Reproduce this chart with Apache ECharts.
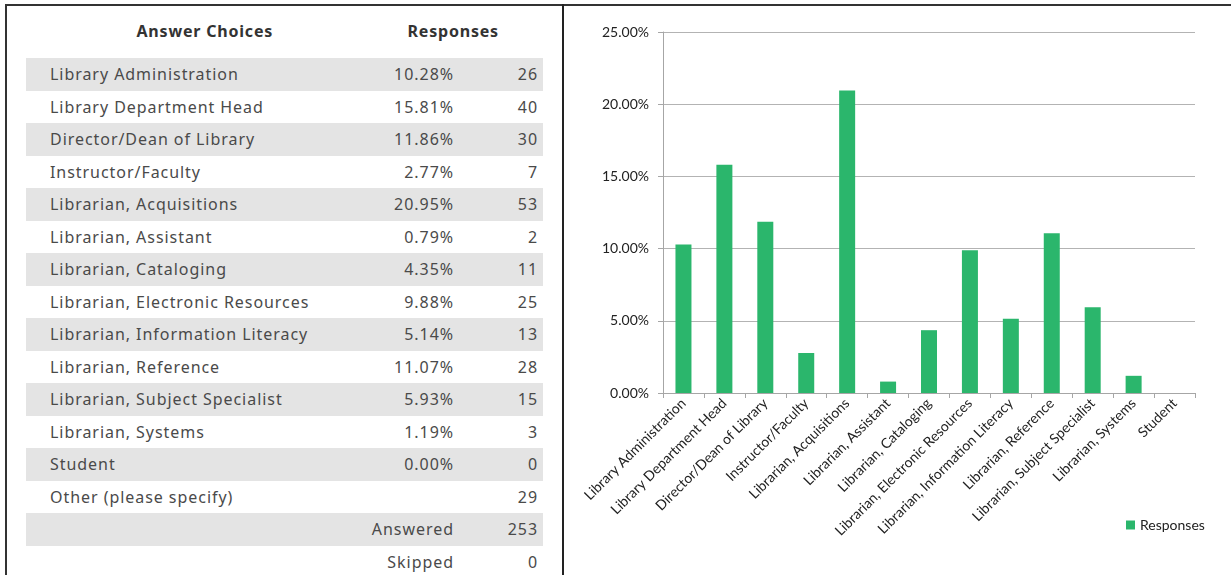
<!DOCTYPE html>
<html>
<head>
<meta charset="utf-8">
<script src="https://cdn.jsdelivr.net/npm/echarts@6/dist/echarts.min.js"></script>
<style>
  html, body { margin: 0; padding: 0; background: #fff; width: 1231px; height: 575px; overflow: hidden; }
  #frameTop { position: absolute; left: 5px; top: 4px; width: 1226px; height: 2px; background: #333; }
  #frameLeft { position: absolute; left: 5px; top: 4px; width: 2px; height: 571px; background: #333; }
  #divider { position: absolute; left: 562px; top: 4px; width: 2px; height: 571px; background: #222; }
  #table { position: absolute; left: 26px; top: 0; width: 517px; height: 575px; font-family: "Noto Sans", sans-serif; color: #4a4a4a; }
  .hdr { position: absolute; top: 20px; font-weight: bold; font-size: 16px; color: #333; letter-spacing: 0.8px; }
  .row { position: absolute; left: 0; width: 517px; height: 32.5px; font-size: 16px; line-height: 32.5px; letter-spacing: 0.95px; }
  .row.gray { background: #e4e4e4; }
  .c1 { position: absolute; left: 24px; }
  .c2 { position: absolute; right: 89px; }
  .c3 { position: absolute; right: 5px; }
  #chart { position: absolute; left: 565px; top: 0; width: 666px; height: 575px; }
</style>
</head>
<body>
<div id="table"></div>
<div id="chart"></div>
<div id="frameTop"></div>
<div id="frameLeft"></div>
<div id="divider"></div>
<script>
const categories = [
  "Library Administration", "Library Department Head", "Director/Dean of Library",
  "Instructor/Faculty", "Librarian, Acquisitions", "Librarian, Assistant",
  "Librarian, Cataloging", "Librarian, Electronic Resources", "Librarian, Information Literacy",
  "Librarian, Reference", "Librarian, Subject Specialist", "Librarian, Systems", "Student"
];
const percents = [10.28, 15.81, 11.86, 2.77, 20.95, 0.79, 4.35, 9.88, 5.14, 11.07, 5.93, 1.19, 0.00];
const counts = [26, 40, 30, 7, 53, 2, 11, 25, 13, 28, 15, 3, 0];
const otherLabel = "Other (please specify)";
const otherCount = 29;
const answeredCount = 253;
const skippedCount = 0;
const seriesName = "Responses";

// ---- table ----
const table = document.getElementById('table');
function addHdr(text, centerX) {
  const d = document.createElement('div');
  d.className = 'hdr';
  d.textContent = text;
  table.appendChild(d);
  d.style.left = (centerX - d.offsetWidth / 2) + 'px';
}
addHdr("Answer Choices", 205 - 26);
addHdr("Responses", 453 - 26);

const rows = [];
categories.forEach((c, i) => rows.push([c, percents[i].toFixed(2) + '%', String(counts[i])]));
rows.push([otherLabel, '', String(otherCount)]);
rows.push(['', 'Answered', String(answeredCount)]);
rows.push(['', 'Skipped', String(skippedCount)]);
rows.forEach((r, i) => {
  const d = document.createElement('div');
  d.className = 'row' + (i % 2 === 0 ? ' gray' : '');
  d.style.top = (58 + i * 32.5) + 'px';
  d.innerHTML = '<span class="c1"></span><span class="c2"></span><span class="c3"></span>';
  d.children[0].textContent = r[0];
  d.children[1].textContent = r[1];
  d.children[2].textContent = r[2];
  table.appendChild(d);
});

// ---- chart ----
const chart = echarts.init(document.getElementById('chart'), null, { renderer: 'canvas' });
const axisGray = '#a6a6a6';
chart.setOption({
  animation: false,
  textStyle: { fontFamily: 'Lato, sans-serif' },
  grid: { left: 98, right: 36, top: 32, bottom: 182, containLabel: false },
  legend: {
    data: [seriesName],
    left: 556, top: 513,
    icon: 'rect', itemWidth: 9, itemHeight: 9, itemGap: 4,
    textStyle: { fontSize: 14, color: '#222', fontFamily: 'Lato, sans-serif' }
  },
  xAxis: {
    type: 'category',
    data: categories,
    axisLine: { lineStyle: { color: axisGray, width: 1 } },
    axisTick: { show: true, length: 5, lineStyle: { color: axisGray } },
    axisLabel: { rotate: 45, interval: 0, fontSize: 14, color: '#222', margin: 8, fontFamily: 'Lato, sans-serif' }
  },
  yAxis: {
    type: 'value',
    min: 0, max: 25, interval: 5,
    axisLine: { show: true, lineStyle: { color: axisGray, width: 1 } },
    axisTick: { show: true, length: 5, lineStyle: { color: axisGray } },
    axisLabel: { fontSize: 14, color: '#222', margin: 14, formatter: v => v.toFixed(2) + '%', fontFamily: 'Lato, sans-serif' },
    splitLine: { lineStyle: { color: '#b3b3b3', width: 1 } }
  },
  series: [{
    name: seriesName,
    type: 'bar',
    data: percents,
    barWidth: 16,
    itemStyle: { color: '#2bb66c' }
  }]
});
</script>
</body>
</html>
